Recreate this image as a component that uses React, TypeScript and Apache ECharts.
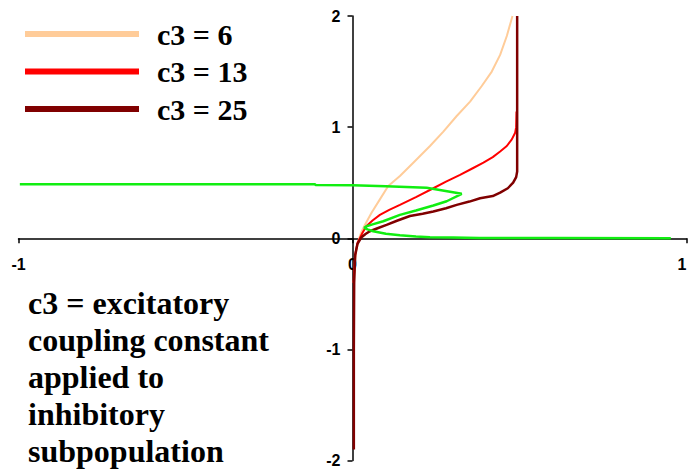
import React, { useEffect, useRef } from "react";
import * as echarts from "echarts";

// Phase-plane trajectories for three values of the excitatory coupling constant c3
const seriesNames = ["c3 = 6", "c3 = 13", "c3 = 25"];
const seriesColors = ["#ffcc99", "#ff0000", "#800000"];

const c3Six: [number, number][] = [
  [0.004, -0.4], [0.008, -0.2], [0.012, -0.1], [0.02, 0], [0.027, 0.06],
  [0.037, 0.12], [0.057, 0.23], [0.082, 0.35], [0.107, 0.47], [0.142, 0.56],
  [0.182, 0.68], [0.232, 0.83], [0.272, 0.96], [0.312, 1.1], [0.352, 1.23],
  [0.387, 1.37], [0.417, 1.5], [0.442, 1.65], [0.462, 1.82], [0.479, 2.0],
];

const c3Thirteen: [number, number][] = [
  [0.003, -0.4], [0.008, -0.15], [0.015, -0.04], [0.022, 0], [0.03, 0.05],
  [0.042, 0.11], [0.06, 0.16], [0.082, 0.21], [0.11, 0.255], [0.142, 0.3],
  [0.19, 0.37], [0.242, 0.45], [0.28, 0.51], [0.322, 0.57], [0.36, 0.63],
  [0.392, 0.68], [0.42, 0.73], [0.442, 0.78], [0.462, 0.83], [0.477, 0.89],
  [0.487, 0.95], [0.49, 1.0], [0.491, 1.14],
];

const c3TwentyFive: [number, number][] = [
  [0.004, -1.9], [0.004, -1.0], [0.005, -0.4], [0.008, -0.15], [0.015, -0.05],
  [0.027, 0.01], [0.04, 0.04], [0.052, 0.063], [0.075, 0.09], [0.102, 0.12],
  [0.135, 0.16], [0.172, 0.2], [0.21, 0.22], [0.242, 0.24], [0.28, 0.27],
  [0.312, 0.3], [0.35, 0.33], [0.382, 0.36], [0.42, 0.38], [0.442, 0.41],
  [0.465, 0.45], [0.481, 0.5], [0.49, 0.55], [0.493, 0.6], [0.493, 2.0],
];

// Inhibitory trace, drawn in data order (it folds back on itself)
const greenTrace: [number, number][] = [
  [-0.996, 0.485], [-0.112, 0.485], [-0.11, 0.479], [0, 0.477], [0.1, 0.468],
  [0.222, 0.454], [0.27, 0.43], [0.327, 0.4], [0.282, 0.333], [0.242, 0.295],
  [0.19, 0.25], [0.142, 0.21], [0.092, 0.153], [0.06, 0.125], [0.042, 0.108],
  [0.035, 0.094], [0.045, 0.08], [0.062, 0.063], [0.1, 0.04], [0.142, 0.027],
  [0.19, 0.015], [0.232, 0.009], [0.3, 0.006], [0.38, 0.003], [0.6, 0.002],
  [0.953, 0.001],
];

const xTicks = { min: -1, max: 1, interval: 1 };
const yTicks = { min: -2, max: 2, interval: 1 };

const noteText =
  "c3 = excitatory\ncoupling constant\napplied to\ninhibitory\nsubpopulation";

const W = 689;
const H = 474;
const GRID = { left: 18.5, right: 2.5, top: 16, bottom: 13.5 };

export default function App() {
  const ref = useRef<HTMLDivElement>(null);

  useEffect(() => {
    if (!ref.current) return;
    const chart = echarts.init(ref.current, undefined, { renderer: "svg" });

    const plotW = W - GRID.left - GRID.right;
    const plotH = H - GRID.top - GRID.bottom;
    // axes cross at the origin, which sits mid-way in both directions
    const xAxisShift = -plotH * ((0 - yTicks.min) / (yTicks.max - yTicks.min));
    const yAxisShift = -plotW * ((0 - xTicks.min) / (xTicks.max - xTicks.min));

    const axisLabel = {
      color: "#000",
      fontWeight: "bold" as const,
      fontFamily: "Liberation Sans, Arial, sans-serif",
      fontSize: 16,
    };
    const axisLine = { onZero: false, lineStyle: { color: "#000", width: 1.5 } };
    const axisTick = { show: true, length: 5, lineStyle: { color: "#000", width: 1.5 } };

    const lineSeries = (name: string, data: [number, number][], color: string, width: number) => ({
      name,
      type: "line" as const,
      data,
      showSymbol: false,
      symbol: "none",
      smooth: false,
      color,
      lineStyle: { color, width },
      itemStyle: { color },
    });

    chart.setOption({
      animation: false,
      backgroundColor: "#fff",
      grid: { ...GRID, containLabel: false, outerBoundsMode: "none" },
      xAxis: {
        type: "value",
        ...xTicks,
        position: "bottom",
        offset: xAxisShift,
        axisLine,
        axisTick,
        splitLine: { show: false },
        axisLabel: { ...axisLabel, margin: 18, alignMaxLabel: "right" },
      },
      yAxis: {
        type: "value",
        ...yTicks,
        position: "left",
        offset: yAxisShift,
        axisLine,
        axisTick,
        splitLine: { show: false },
        axisLabel: { ...axisLabel, margin: 12 },
      },
      legend: {
        data: seriesNames,
        orient: "vertical",
        left: 25,
        top: 19,
        padding: 0,
        icon: "rect",
        itemWidth: 114,
        itemHeight: 6,
        itemGap: 7.5,
        textStyle: {
          color: "#000",
          fontFamily: "Liberation Serif, Times New Roman, serif",
          fontWeight: "bold",
          fontSize: 30,
          lineHeight: 30,
          padding: [0, 0, 0, 13],
        },
      },
      graphic: [
        {
          type: "text",
          left: 28,
          top: 284,
          style: {
            text: noteText,
            fill: "#000",
            font: "bold 32px 'Liberation Serif', 'Times New Roman', serif",
            lineHeight: 37,
          },
        },
      ],
      series: [
        lineSeries(seriesNames[0], c3Six, seriesColors[0], 2),
        lineSeries(seriesNames[1], c3Thirteen, seriesColors[1], 2),
        lineSeries(seriesNames[2], c3TwentyFive, seriesColors[2], 2.5),
        lineSeries("inhibitory", greenTrace, "#11ee11", 2.5),
      ],
    });

    return () => chart.dispose();
  }, []);

  return (
    <div
      ref={ref}
      style={{ position: "fixed", left: 0, top: 0, width: W, height: H }}
    />
  );
}
